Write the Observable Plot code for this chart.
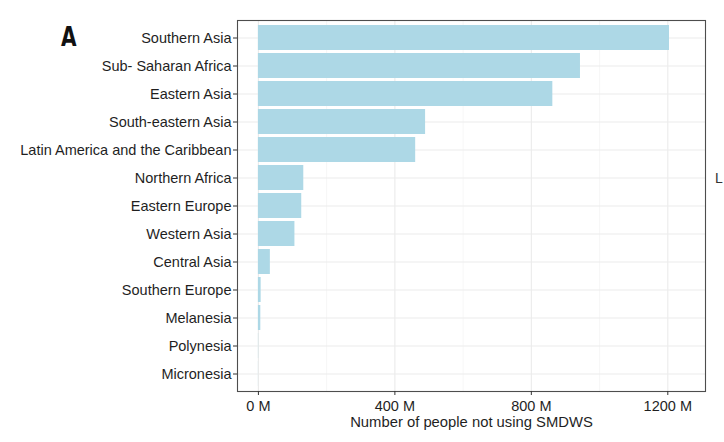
<!DOCTYPE html>
<html><head><meta charset="utf-8">
<script src="https://cdn.jsdelivr.net/npm/d3@7"></script>
<script src="https://cdn.jsdelivr.net/npm/@observablehq/plot@0.6"></script>
<style>
body{margin:0;background:#fff;}
#wrap{position:relative;width:724px;height:442px;overflow:hidden;}
#wrap svg.overlay{position:absolute;left:0;top:0;pointer-events:none;}
</style></head><body><div id="wrap"></div>
<script>
const regions = ["Southern Asia","Sub- Saharan Africa","Eastern Asia","South-eastern Asia","Latin America and the Caribbean","Northern Africa","Eastern Europe","Western Asia","Central Asia","Southern Europe","Melanesia","Polynesia","Micronesia"];
const peopleM = [1205, 944, 863, 490, 461, 133, 127, 107, 35, 8, 7, 0.6, 0.3];
const xTicks = [0, 400, 800, 1200];
const xMinor = [200, 600, 1000];
const xTitle = "Number of people not using SMDWS";
const panelLabel = "A";
const cutLabel = "L";

const data = regions.map((r, i) => ({region: r, value: peopleM[i]}));
const font = "'Liberation Sans', Arial, sans-serif";

const chart = Plot.plot({
  width: 724, height: 442,
  marginLeft: 237, marginRight: 19, marginTop: 20, marginBottom: 51,
  style: {fontFamily: font, fontSize: "14.5px", color: "#1f1f1f", background: "#fff"},
  x: {domain: [-61.3, 1310.5]},
  y: {domain: regions, paddingInner: 0.1, paddingOuter: 0.15},
  marks: [
    Plot.ruleX(xMinor, {stroke: "#f0f0f0", strokeWidth: 0.6}),
    Plot.ruleX(xTicks, {stroke: "#ebebeb", strokeWidth: 1.1}),
    Plot.ruleY(regions, {y: d => d, stroke: "#ebebeb", strokeWidth: 1.1}),
    Plot.barX(data, {x: "value", y: "region", fill: "#add8e6"}),
    Plot.frame({stroke: "#4d4d4d", strokeWidth: 1.1}),
    Plot.axisY({tickSize: 4, tickPadding: 2, label: null, stroke: "#333", fontSize: 14.5}),
    Plot.axisX({ticks: xTicks, tickFormat: d => `${d} M`, tickSize: 4, tickPadding: 5, label: null, stroke: "#333", fontSize: 14.5}),
    Plot.text([xTitle], {frameAnchor: "bottom", dy: 35, fontSize: 14.8, fill: "#1f1f1f"})
  ]
});
const wrap = document.getElementById("wrap");
wrap.appendChild(chart);

const ns = "http://www.w3.org/2000/svg";
const ov = document.createElementNS(ns, "svg");
ov.setAttribute("class", "overlay");
ov.setAttribute("width", 724); ov.setAttribute("height", 442);
const tA = document.createElementNS(ns, "text");
tA.setAttribute("x", 0); tA.setAttribute("y", 0);
tA.setAttribute("transform", "translate(61,45.5) scale(0.86,1)");
tA.setAttribute("font-family", "'Liberation Sans Narrow','DejaVu Sans Condensed',sans-serif");
tA.setAttribute("font-weight", "bold"); tA.setAttribute("font-size", 26);
tA.setAttribute("fill", "#111");
tA.textContent = panelLabel;
ov.appendChild(tA);
const tL = document.createElementNS(ns, "text");
tL.setAttribute("x", 715); tL.setAttribute("y", 183);
tL.setAttribute("font-family", font); tL.setAttribute("font-size", 14);
tL.setAttribute("fill", "#333");
tL.textContent = cutLabel;
ov.appendChild(tL);
wrap.appendChild(ov);
</script></body></html>
